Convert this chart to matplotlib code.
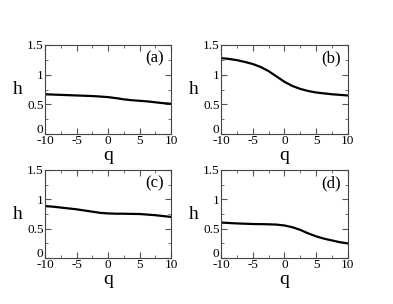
import matplotlib
matplotlib.use("Agg")
import matplotlib.pyplot as plt
import matplotlib.transforms as mtrans
from matplotlib.ticker import MultipleLocator

plt.rcParams['font.family'] = ['Liberation Serif', 'DejaVu Serif']
plt.rcParams['axes.unicode_minus'] = False

# q values sampled along each curve
q = [-10, -8.75, -7.5, -6.25, -5, -3.75, -2.5, -1.25, 0,
     1.25, 2.5, 3.75, 5, 6.25, 7.5, 8.75, 10]

h_a = [0.67, 0.665, 0.66, 0.655, 0.65, 0.645, 0.64, 0.632, 0.622,
       0.605, 0.585, 0.57, 0.56, 0.55, 0.535, 0.52, 0.51]
h_b = [1.28, 1.265, 1.245, 1.215, 1.18, 1.13, 1.06, 0.97, 0.88,
       0.81, 0.76, 0.725, 0.70, 0.685, 0.67, 0.66, 0.65]
h_c = [0.885, 0.875, 0.86, 0.845, 0.83, 0.81, 0.79, 0.77, 0.76,
       0.755, 0.755, 0.752, 0.75, 0.74, 0.73, 0.715, 0.70]
h_d = [0.605, 0.597, 0.59, 0.585, 0.58, 0.578, 0.575, 0.57, 0.555,
       0.525, 0.48, 0.42, 0.37, 0.33, 0.30, 0.27, 0.25]

panels = ["(a)", "(b)", "(c)", "(d)"]
curves = [h_a, h_b, h_c, h_d]

fig = plt.figure(figsize=(3.93, 3.04), dpi=100)

# axes boxes in figure fraction
boxes = [
    [0.1145, 0.559, 0.321, 0.293],
    [0.5623, 0.559, 0.323, 0.293],
    [0.1145, 0.151, 0.321, 0.290],
    [0.5623, 0.151, 0.323, 0.290],
]

for box, h, tag in zip(boxes, curves, panels):
    ax = fig.add_axes(box)
    ax.plot(q, h, color='black', lw=1.6)
    ax.set_xlim(-10, 10)
    ax.set_ylim(0, 1.5)
    ax.xaxis.set_major_locator(MultipleLocator(5))
    ax.xaxis.set_minor_locator(MultipleLocator(2.5))
    ax.yaxis.set_minor_locator(MultipleLocator(0.25))
    ax.set_yticks([0, 0.5, 1, 1.5])
    ax.set_yticklabels(['0', '0.5', '1', '1.5'])
    ax.tick_params(which='both', direction='in', top=True, right=True,
                   labelsize=9.5, pad=1, color='#555555')
    ax.tick_params(which='major', length=4)
    ax.tick_params(which='minor', length=2)
    # raise the "0" label so it clears "-10"
    lab0 = ax.get_yticklabels()[0]
    lab0.set_transform(lab0.get_transform() +
                       mtrans.ScaledTranslation(0, 4 / 72, fig.dpi_scale_trans))
    for s in ax.spines.values():
        s.set_linewidth(0.8)
        s.set_color('#444444')
    ax.set_xlabel('q', fontsize=14, labelpad=0)
    ax.set_ylabel('h', fontsize=14, rotation=0, labelpad=7, va='center')
    ax.text(0.87, 0.85, tag, transform=ax.transAxes, fontsize=12,
            ha='center', va='center')

fig.savefig('out.png', dpi=100)
